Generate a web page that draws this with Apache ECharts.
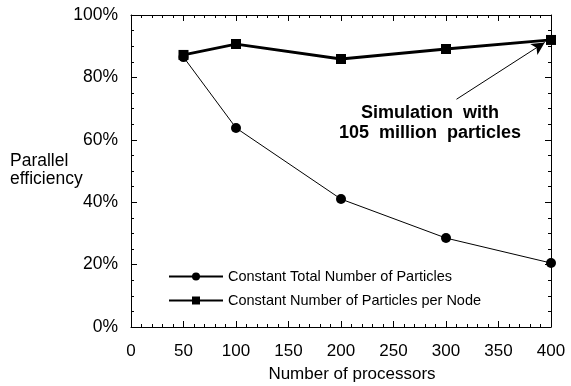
<!DOCTYPE html>
<html>
<head>
<meta charset="utf-8">
<script src="https://cdn.jsdelivr.net/npm/echarts@6/dist/echarts.min.js"></script>
<style>
  html, body { margin: 0; padding: 0; background: #fff; }
  #chart { width: 571px; height: 386px; }
</style>
</head>
<body>
<div id="chart"></div>
<script>
// data
const processors = [50, 100, 200, 300, 400]
const totalParticles = [86.5, 63.8, 41, 28.5, 20.5]
const perNode = [87.2, 90.7, 85.9, 89.1, 92]
const xTicks = [0, 50, 100, 150, 200, 250, 300, 350, 400]
const yTicks = [0, 20, 40, 60, 80, 100]

const FONT = 'Liberation Sans'

const chart = echarts.init(document.getElementById('chart'))

const tickStyle = {
  axisLine: { show: true, onZero: false, lineStyle: { color: '#000', width: 1 } },
  axisTick: { show: true, inside: true, length: 6, lineStyle: { color: '#000' } },
  splitLine: { show: false }
}
const xMinor = { show: true, splitNumber: 5, length: 3, lineStyle: { color: '#000' } }
const yMinor = { show: true, splitNumber: 4, length: 3, lineStyle: { color: '#000' } }

const options = {
  animation: false,
  backgroundColor: '#fff',
  textStyle: { fontFamily: FONT },
  grid: { left: 131, right: 20, top: 15, bottom: 59, outerBoundsMode: 'none', containLabel: false },
  legend: {
    orient: 'vertical',
    left: 163,
    top: 264,
    itemWidth: 54,
    itemHeight: 10,
    itemGap: 9,
    textStyle: { fontFamily: FONT, fontSize: 14.5, color: '#000' },
    data: ['Constant Total Number of Particles', 'Constant Number of Particles per Node']
  },
  xAxis: [
    Object.assign({
      type: 'value',
      min: 0,
      max: 400,
      interval: 50,
      name: 'Number of processors',
      nameLocation: 'middle',
      nameGap: 39,
      nameTextStyle: { fontFamily: FONT, fontSize: 17, color: '#000', padding: [0, 0, 0, 22] },
      axisLabel: { color: '#000', fontSize: 17, margin: 16, fontFamily: FONT,
        customValues: xTicks },
      minorTick: xMinor
    }, tickStyle),
    Object.assign({
      type: 'value',
      position: 'top',
      min: 0,
      max: 400,
      interval: 50,
      axisLabel: { show: false },
      minorTick: xMinor
    }, tickStyle)
  ],
  yAxis: [
    Object.assign({
      type: 'value',
      min: 0,
      max: 100,
      interval: 20,
      axisLabel: { color: '#000', fontSize: 17.5, margin: 13, fontFamily: FONT,
        customValues: yTicks, formatter: v => v + '%' },
      minorTick: yMinor
    }, tickStyle),
    Object.assign({
      type: 'value',
      position: 'right',
      min: 0,
      max: 100,
      interval: 20,
      axisLabel: { show: false },
      minorTick: yMinor
    }, tickStyle)
  ],
  series: [
    {
      name: 'Constant Total Number of Particles',
      type: 'line',
      data: processors.map((p, i) => [p, totalParticles[i]]),
      symbol: 'circle',
      symbolSize: 10,
      itemStyle: { color: '#000' },
      lineStyle: { color: '#000', width: 1 },
      z: 3
    },
    {
      name: 'Constant Number of Particles per Node',
      type: 'line',
      data: processors.map((p, i) => [p, perNode[i]]),
      symbol: 'rect',
      symbolSize: 10,
      itemStyle: { color: '#000' },
      lineStyle: { color: '#000', width: 2.8 },
      z: 4,
      markLine: {
        silent: true,
        symbol: ['none', 'arrow'],
        symbolSize: [10, 13],
        lineStyle: { color: '#000', width: 1, type: 'solid' },
        label: { show: false },
        data: [[{ coord: [310, 73] }, { coord: [394, 91.2] }]]
      }
    }
  ],
  graphic: [
    { // y axis title, sits horizontally left of the labels
      type: 'text',
      x: 10,
      y: 170,
      style: {
        text: 'Parallel\nefficiency',
        fontFamily: FONT,
        fontSize: 17.5,
        lineHeight: 18,
        fill: '#000',
        align: 'left',
        verticalAlign: 'middle'
      }
    },
    {
      type: 'text',
      x: 430,
      y: 103,
      style: {
        text: 'Simulation  with\n105  million  particles',
        fontFamily: FONT,
        fontWeight: 'bold',
        fontSize: 18,
        lineHeight: 20,
        fill: '#000',
        align: 'center',
        verticalAlign: 'top'
      }
    }
  ]
}

chart.setOption(options)
</script>
</body>
</html>
